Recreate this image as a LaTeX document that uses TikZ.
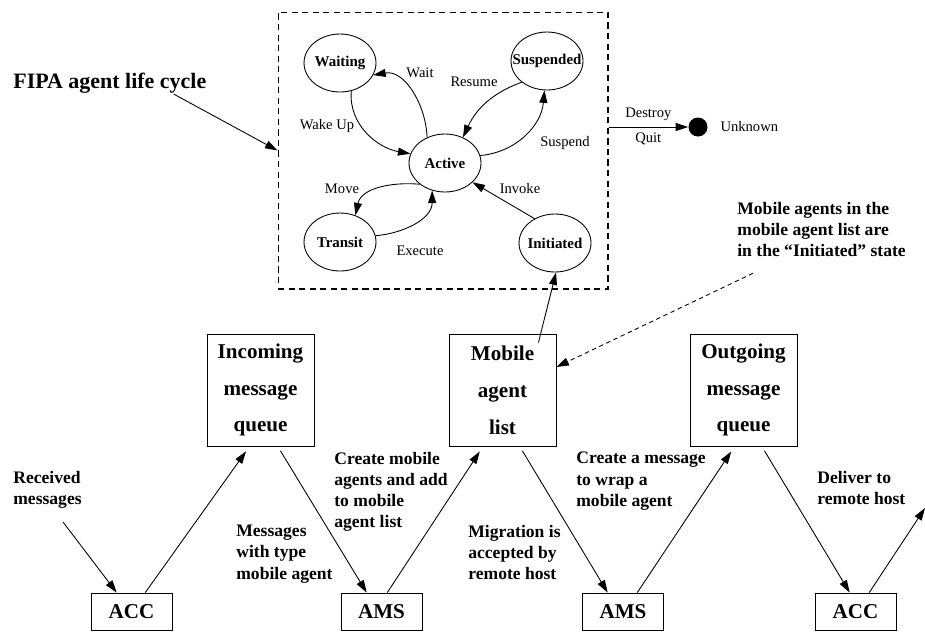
\documentclass[tikz,border=0pt]{standalone}
\usepackage{fontspec}
\setmainfont{Liberation Serif}
\usetikzlibrary{shapes.geometric,arrows.meta,positioning}
\tikzset
{
    state/.style   = {ellipse, draw=black, line width=0.5pt, minimum width=1.44cm, minimum height=1.16cm, inner sep=0pt, font=\bfseries\fontsize{8.5}{10}\selectfont},
    trans/.style   = {font=\fontsize{8.3}{10}\selectfont},
    queue/.style   = {rectangle, draw=black, line width=0.5pt, minimum width=2.14cm, minimum height=2.24cm, align=center, font=\bfseries\fontsize{12}{21}\selectfont},
    entity/.style  = {rectangle, draw=black, line width=0.5pt, minimum width=1.62cm, minimum height=0.74cm, inner sep=0pt, font=\bfseries\fontsize{12}{14}\selectfont},
    remark/.style  = {anchor=north west, inner sep=0pt, align=left, font=\bfseries\fontsize{10}{12}\selectfont},
    arrow/.style   = {->, >={Triangle[length=2.5mm,width=1.6mm]}, line width=0.5pt},
    lcframe/.style = {draw=black, dash pattern=on 3.5pt off 2.5pt, line width=0.6pt, minimum width=6.6cm, minimum height=5.54cm},
}

\begin{document}
\begin{tikzpicture}[x=0.02cm, y=0.02cm]
   \useasboundingbox (0,0) rectangle (925,-633);

   \newcommand\ROWDY{221.5}

   % life cycle
   \node (lc)   [lcframe] at (443,-150.5) {};
   \node (act)  [state] at (445,-163) {\makebox[0pt]{Active}};
   \node (wait) [state] at (340,-63)  {\makebox[0pt]{Waiting}};
   \node (susp) [state] at (547,-61)  {\makebox[0pt]{Suspended}};
   \node (tran) [state] at (340,-242) {\makebox[0pt]{Transit}};
   \node (init) [state] at (555,-243) {\makebox[0pt]{Initiated}};

   \node (lwait) [trans] at (420,-73)  {Wait};
   \node (lres)  [trans] at (474,-82)  {Resume};
   \node (lwake) [trans] at (327,-126) {Wake Up};
   \node (lsus)  [trans] at (565,-143) {Suspend};
   \node (lmove) [trans] at (342,-189) {Move};
   \node (linv)  [trans] at (520,-189) {Invoke};
   \node (lexe)  [trans] at (420,-251) {Execute};

   \node (unk)  [circle, fill=black, minimum size=0.38cm, inner sep=0pt] at (698,-127) {};
   \node (lunk) [trans, right=0.13cm of unk] {Unknown};

   \node (fipa) [anchor=north west, inner sep=0pt, font=\bfseries\fontsize{12.5}{15}\selectfont] at (13,-73) {FIPA agent life cycle};

   % message flow
   \node (acc1) [entity] at (131.5,-611.5) {ACC};
   \node (inc)  [queue]  at ([shift=({129,\ROWDY})]acc1)  {Incoming\\message\\queue};
   \node (ams1) [entity] at ([shift=({121,-\ROWDY})]inc)  {AMS};
   \node (mal)  [queue]  at ([shift=({121,\ROWDY})]ams1)  {Mobile\\agent\\list};
   \node (ams2) [entity] at ([shift=({120.5,-\ROWDY})]mal) {AMS};
   \node (outq) [queue]  at ([shift=({120.5,\ROWDY})]ams2) {Outgoing\\message\\queue};
   \node (acc2) [entity] at ([shift=({112,-\ROWDY})]outq) {ACC};

   \node (lrec)  [remark] at (13,-471)  {Received\\messages};
   \node (lmsg)  [remark] at (236,-525) {Messages\\with type\\mobile agent};
   \node (lcre)  [remark] at (334,-452) {Create mobile\\agents and add\\to mobile\\agent list};
   \node (lmig)  [remark] at (468,-525) {Migration is\\accepted by\\remote host};
   \node (lwrap) [remark] at (576,-452) {Create a message\\to wrap a\\mobile agent};
   \node (ldel)  [remark] at (817,-471) {Deliver to\\remote host};
   \node (note)  [remark] at (737,-202) {Mobile agents in the\\mobile agent list are\\in the “Initiated” state};

   \coordinate (rin)  at (63,-522);
   \coordinate (rout) at (925,-508);

   \path
      (wait.-68)  edge[arrow, out=-95, in=170]  (act.165)
      (act.125)   edge[arrow, out=92, in=10]    (wait.-20)
      (susp.-140) edge[arrow, out=200, in=65]   (act.55)
      (act.12)    edge[arrow, out=5, in=-95]    (susp.-95)
      (act.-140)  edge[arrow, out=175, in=78]   (tran.60)
      (tran.10)   edge[arrow, out=5, in=-90]    (act.-115)
      (init.130)  edge[arrow]                   (act.-35)
      ([xshift=-0.66cm]fipa.south east) edge[arrow] (lc.west)
      (lc.east |- unk) edge[arrow] node[trans, above] {Destroy} node[trans, below] {Quit} (unk);

   \path
      (rin)       edge[arrow]                     (acc1.128)
      (acc1.54)   edge[arrow, shorten >=0.12cm]   (inc.-101)
      (inc.-73)   edge[arrow, shorten <=0.1cm]    (ams1.128)
      (ams1.73)   edge[arrow, shorten >=0.12cm]   (mal.-109)
      (mal.-73)   edge[arrow, shorten <=0.1cm]    (ams2.129)
      (ams2.53)   edge[arrow, shorten >=0.12cm]   (outq.-99)
      (outq.-72)  edge[arrow, shorten <=0.1cm]    (acc2.107)
      (acc2.54)   edge[arrow]                     (rout)
      ([xshift=-0.36cm, yshift=-0.18cm]mal.north east) edge[arrow] (init.-88)
      ([xshift=0.32cm, yshift=-0.32cm]note.south west) edge[arrow, dash pattern=on 2.5pt off 2pt] ([yshift=0.46cm]mal.east);
\end{tikzpicture}
\end{document}
